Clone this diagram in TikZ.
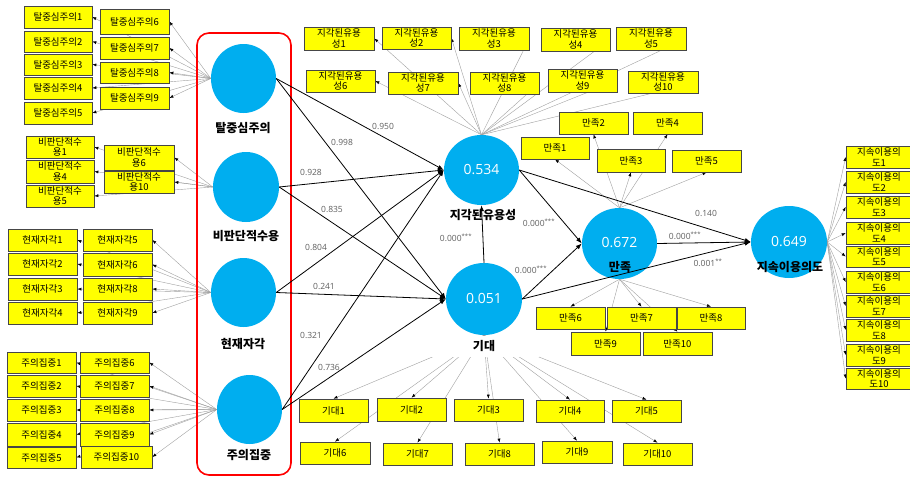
\documentclass[tikz,border=0pt]{standalone}
\usepackage{fontspec}
\setmainfont{Open Sans}
\newfontfamily\kr{Noto Sans CJK KR}
\usetikzlibrary{shapes.geometric,arrows.meta,backgrounds}
\definecolor{lvblue}{RGB}{0,174,239}
\definecolor{boxyellow}{RGB}{255,255,0}
\definecolor{boxgray}{RGB}{70,70,70}
\definecolor{labgray}{RGB}{95,95,95}
\definecolor{linegray}{RGB}{160,160,160}
\newcommand\bx[6]{\node[ibox,minimum width={#4-#2},minimum height={#5-#3}] (#1) at ({(#2+#4)/2},{(#3+#5)/2}) {#6};}
\begin{document}
\begin{tikzpicture}[x=1pt,y=-1pt,
  ibox/.style={draw=boxgray, fill=boxyellow, line width=0.7pt, inner sep=0pt, align=center, font=\kr\fontsize{9.5}{10.5}\selectfont},
  lv/.style={ellipse, fill=lvblue, inner sep=0pt, text=white, font=\fontsize{14}{16}\selectfont},
  lvlab/.style={font=\kr\bfseries\fontsize{12}{14}\selectfont, inner sep=1pt},
  plab/.style={text=labgray, font=\fontsize{8.5}{10}\selectfont, inner sep=0pt},
  innerarr/.style={draw=black, line width=0.8pt, -{Latex[length=6pt,width=4.5pt]}},
  outerarr/.style={draw=linegray, line width=0.4pt, -{Latex[length=4pt,width=3pt,black]}},
]
\useasboundingbox (0,0) rectangle (910,479);

% latent variables
\node[lv, minimum width=65, minimum height=69] (TJ) at (243.5,78.5) {};
\node[lv, minimum width=66, minimum height=70] (NJ) at (246,187) {};
\node[lv, minimum width=65, minimum height=69] (PA) at (243.5,292.5) {};
\node[lv, minimum width=65, minimum height=69] (AT) at (249.5,409.5) {};
\node[lv, minimum width=75, minimum height=70] (PU) at (481.5,170) {0.534};
\node[lv, minimum width=76, minimum height=72] (EX) at (484,299) {0.051};
\node[lv, minimum width=75, minimum height=71] (SA) at (619.5,243.5) {};
\node[lv, minimum width=76, minimum height=72] (CI) at (789,242) {};
\node[text=white, font=\fontsize{14}{16}\selectfont, inner sep=0pt] (SAv) at (619.5,243) {0.672};
\node[text=white, font=\fontsize{14}{16}\selectfont, inner sep=0pt] (CIv) at (789,242) {0.649};

\draw[red, line width=1.6pt, rounded corners=12pt] (197,33) rectangle (291,475);

\node[lvlab] (TJl) at (243,128) {탈중심주의};
\node[lvlab] (NJl) at (246,236) {비판단적수용};
\node[lvlab] (PAl) at (243,344) {현재자각};
\node[lvlab] (ATl) at (249,455) {주의집중};
\node[lvlab] (PUl) at (483,215) {지각된유용성};
\node[lvlab, fill=white, minimum width=110, minimum height=21] (EXl) at (484,346) {기대};
\node[lvlab] (SAl) at (620,267) {만족};
\node[lvlab] (CIl) at (790,267) {지속이용의도};

% indicators
\bx{a1}{24}{6}{92}{28}{탈중심주의1}
\bx{a2}{24}{31}{92}{52}{탈중심주의2}
\bx{a3}{24}{54}{92}{75}{탈중심주의3}
\bx{a4}{24}{77}{92}{99}{탈중심주의4}
\bx{a5}{24}{102}{92}{124}{탈중심주의5}
\bx{a6}{100}{9}{169}{34}{탈중심주의6}
\bx{a7}{100}{37}{169}{59}{탈중심주의7}
\bx{a8}{100}{62}{169}{83}{탈중심주의8}
\bx{a9}{100}{87}{169}{109}{탈중심주의9}

\bx{b1}{26}{136}{94}{158}{비판단적수\\용1}
\bx{b4}{26}{160}{94}{183}{비판단적수\\용4}
\bx{b5}{26}{185}{94}{207}{비판단적수\\용5}
\bx{b6}{104}{145}{174}{170}{비판단적수\\용6}
\bx{b10}{104}{171}{174}{193}{비판단적수\\용10}

\bx{c1}{8}{229}{77}{251}{현재자각1}
\bx{c2}{8}{253}{77}{275}{현재자각2}
\bx{c3}{8}{278}{77}{300}{현재자각3}
\bx{c4}{8}{302}{77}{324}{현재자각4}
\bx{c5}{83}{229}{152}{251}{현재자각5}
\bx{c6}{83}{253}{152}{276}{현재자각6}
\bx{c8}{83}{278}{152}{300}{현재자각8}
\bx{c9}{83}{302}{152}{324}{현재자각9}

\bx{d1}{7}{352}{76}{373}{주의집중1}
\bx{d2}{7}{375}{76}{397}{주의집중2}
\bx{d3}{7}{399}{76}{421}{주의집중3}
\bx{d4}{7}{423}{76}{446}{주의집중4}
\bx{d5}{7}{447}{76}{468}{주의집중5}
\bx{d6}{80}{352}{149}{373}{주의집중6}
\bx{d7}{80}{375}{149}{397}{주의집중7}
\bx{d8}{80}{399}{149}{421}{주의집중8}
\bx{d9}{80}{423}{149}{446}{주의집중9}
\bx{d10}{81}{446}{152}{468}{주의집중10}

\bx{p1}{304}{27}{374}{50}{지각된유용\\성1}
\bx{p2}{382}{27}{451}{49}{지각된유용\\성2}
\bx{p3}{459}{27}{529}{50}{지각된유용\\성3}
\bx{p4}{541}{28}{610}{51}{지각된유용\\성4}
\bx{p5}{616}{27}{686}{50}{지각된유용\\성5}
\bx{p6}{306}{70}{375}{92}{지각된유용\\성6}
\bx{p7}{388}{72}{458}{94}{지각된유용\\성7}
\bx{p8}{470}{72}{539}{94}{지각된유용\\성8}
\bx{p9}{548}{69}{617}{92}{지각된유용\\성9}
\bx{p10}{628}{71}{698}{93}{지각된유용\\성10}

\bx{s1}{521}{137}{589}{159}{만족1}
\bx{s2}{559}{112}{628}{134}{만족2}
\bx{s3}{597}{149}{665}{172}{만족3}
\bx{s4}{633}{112}{702}{134}{만족4}
\bx{s5}{672}{150}{741}{172}{만족5}
\bx{s6}{536}{307}{605}{329}{만족6}
\bx{s7}{607}{307}{676}{329}{만족7}
\bx{s8}{677}{307}{745}{329}{만족8}
\bx{s9}{571}{332}{640}{355}{만족9}
\bx{s10}{643}{332}{712}{355}{만족10}

\bx{e1}{299}{399}{368}{422}{기대1}
\bx{e2}{377}{398}{446}{421}{기대2}
\bx{e3}{454}{399}{523}{421}{기대3}
\bx{e4}{536}{400}{604}{422}{기대4}
\bx{e5}{612}{400}{681}{422}{기대5}
\bx{e6}{300}{442}{370}{464}{기대6}
\bx{e7}{383}{443}{452}{465}{기대7}
\bx{e8}{465}{443}{534}{465}{기대8}
\bx{e9}{542}{441}{612}{463}{기대9}
\bx{e10}{623}{443}{692}{465}{기대10}

\bx{u1}{846}{146}{912}{168}{지속이용의\\도1}
\bx{u2}{846}{171}{912}{193}{지속이용의\\도2}
\bx{u3}{846}{196}{912}{218}{지속이용의\\도3}
\bx{u4}{846}{222}{912}{244}{지속이용의\\도4}
\bx{u5}{846}{246}{912}{267}{지속이용의\\도5}
\bx{u6}{846}{271}{912}{293}{지속이용의\\도6}
\bx{u7}{846}{295}{912}{317}{지속이용의\\도7}
\bx{u8}{846}{319}{912}{341}{지속이용의\\도8}
\bx{u9}{846}{344}{912}{366}{지속이용의\\도9}
\bx{u10}{846}{368}{912}{389}{지속이용의\\도10}

% path coefficient labels
\node[plab] (l1) at (383,126) {0.950};
\node[plab] (l2) at (342,142) {0.998};
\node[plab] (l3) at (311,172) {0.928};
\node[plab] (l4) at (332,209) {0.835};
\node[plab] (l5) at (316,247) {0.804};
\node[plab] (l6) at (324,286) {0.241};
\node[plab] (l7) at (311,335) {0.321};
\node[plab] (l8) at (329,367) {0.736};
\node[plab] (l9) at (456,238) {0.000\textsuperscript{***}};
\node[plab] (l10) at (539,223) {0.000\textsuperscript{***}};
\node[plab] (l11) at (531,270) {0.000\textsuperscript{***}};
\node[plab] (l12) at (706,213) {0.140};
\node[plab] (l13) at (685,236) {0.000\textsuperscript{***}};
\node[plab] (l14) at (708,263) {0.001\textsuperscript{**}};

% structural paths
\draw[innerarr] (TJ.east) -- (PU.west);
\draw[innerarr] (TJ.east) -- (EX.west);
\draw[innerarr] (NJ.east) -- (PU.west);
\draw[innerarr] (NJ.east) -- (EX.west);
\draw[innerarr] (PA.east) -- (PU.west);
\draw[innerarr] (PA.east) -- (EX.west);
\draw[innerarr] (AT.east) -- (PU.west);
\draw[innerarr] (AT.east) -- (EX.west);
\draw[innerarr] (EX.north) -- (PU.south);
\draw[innerarr] (PU.east) -- (SA.west);
\draw[innerarr] (EX.east) -- (SA.west);
\draw[innerarr] (PU.east) -- (CI.west);
\draw[innerarr] (SA.east) -- (CI.west);
\draw[innerarr] (EX.east) -- (CI.west);

\begin{pgfonlayer}{background}
\fill[white] (0,0) rectangle (910,479);
\foreach \i in {1,...,9} \draw[outerarr] (TJ.west) -- (a\i.east);
\foreach \i in {1,4,5,6,10} \draw[outerarr] (NJ.west) -- (b\i.east);
\foreach \i in {1,2,3,4,5,6,8,9} \draw[outerarr] (PA.west) -- (c\i.east);
\foreach \i in {1,...,10} \draw[outerarr] (AT.west) -- (d\i.east);
\foreach \i in {1,...,10} \draw[outerarr] (PU.north) -- (p\i.east);
\foreach \i in {1,...,5} \draw[outerarr] (SA.north) -- (s\i.south);
\foreach \i in {6,...,10} \draw[outerarr] (SA.south) -- (s\i.north);
\foreach \i in {1,...,10} \draw[outerarr] (EX.south) -- (e\i.north);
\foreach \i in {1,...,10} \draw[outerarr] (CI.east) -- (u\i.west);
\end{pgfonlayer}
\end{tikzpicture}
\end{document}
